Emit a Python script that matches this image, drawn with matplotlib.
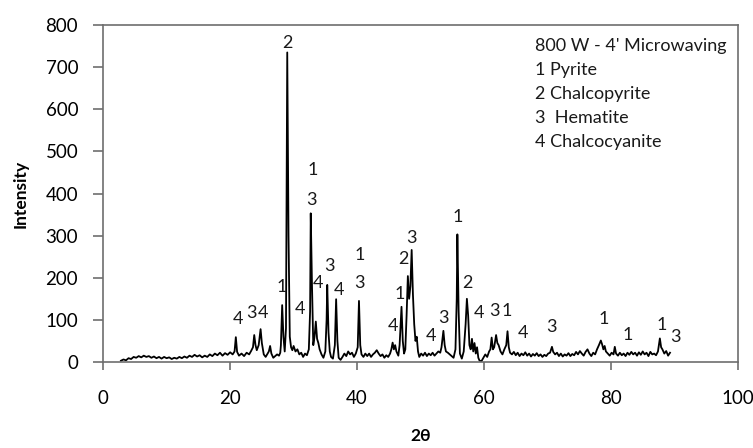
import matplotlib
matplotlib.use("Agg")
import matplotlib.pyplot as plt

plt.rcParams['font.family'] = ['Lato', 'DejaVu Sans']

# XRD trace (2theta, intensity)
two_theta = [
    2.8, 3.2, 3.6, 4.0, 4.4, 4.8, 5.2, 5.6, 6.0, 6.4, 6.8, 7.2, 7.6, 8.0, 8.4, 8.8,
    9.2, 9.6, 10.0, 10.4, 10.8, 11.2, 11.6, 12.0, 12.4, 12.8, 13.2, 13.6, 14.0, 14.4,
    14.8, 15.2, 15.6, 16.0, 16.4, 16.8, 17.2, 17.6, 18.0, 18.4, 18.8, 19.2, 19.6, 20.0,
    20.4, 20.7, 20.9, 21.1, 21.4, 21.8, 22.2, 22.6, 23.0, 23.3, 23.6, 23.8, 24.0, 24.2,
    24.5, 24.8, 25.0, 25.3, 25.6, 25.9, 26.1, 26.3, 26.5, 26.8, 27.1, 27.4, 27.7, 27.9,
    28.0, 28.2, 28.4, 28.6, 28.8, 29.0, 29.2, 29.4, 29.6, 29.8, 30.0, 30.3, 30.6, 30.9,
    31.2, 31.5, 31.8, 32.1, 32.4, 32.6, 32.7, 32.9, 33.1, 33.3, 33.5, 33.7, 33.9, 34.1,
    34.4, 34.7, 35.0, 35.2, 35.3, 35.5, 35.7, 35.9, 36.2, 36.5, 36.7, 36.9, 37.1, 37.4,
    37.7, 38.0, 38.3, 38.6, 38.9, 39.2, 39.5, 39.8, 40.1, 40.3, 40.5, 40.7, 41.0, 41.3,
    41.6, 41.9, 42.2, 42.5, 42.8, 43.1, 43.4, 43.7, 44.0, 44.3, 44.6, 44.9, 45.2, 45.4,
    45.6, 45.8, 46.0, 46.2, 46.5, 46.7, 47.0, 47.2, 47.4, 47.6, 47.8, 48.0, 48.2, 48.4,
    48.6, 48.8, 49.0, 49.2, 49.4, 49.6, 49.8, 50.1, 50.4, 50.7, 51.0, 51.3, 51.6, 51.9,
    52.2, 52.5, 52.8, 53.1, 53.3, 53.6, 53.8, 54.0, 54.3, 54.6, 54.9, 55.2, 55.5, 55.7,
    55.8, 56.0, 56.2, 56.5, 56.8, 57.1, 57.3, 57.5, 57.7, 57.9, 58.1, 58.3, 58.5, 58.7,
    58.9, 59.1, 59.3, 59.6, 59.9, 60.2, 60.5, 60.8, 61.0, 61.2, 61.4, 61.6, 61.9, 62.1,
    62.3, 62.6, 62.9, 63.2, 63.5, 63.7, 63.9, 64.1, 64.4, 64.7, 65.0, 65.3, 65.6, 65.9,
    66.2, 66.5, 66.8, 67.1, 67.4, 67.7, 68.0, 68.3, 68.6, 68.9, 69.2, 69.5, 69.8, 70.1,
    70.4, 70.7, 70.9, 71.2, 71.5, 71.8, 72.1, 72.4, 72.7, 73.0, 73.3, 73.6, 73.9, 74.2,
    74.5, 74.8, 75.1, 75.4, 75.7, 76.0, 76.3, 76.6, 76.9, 77.2, 77.5, 77.8, 78.1, 78.4,
    78.6, 78.8, 79.0, 79.2, 79.5, 79.8, 80.1, 80.4, 80.6, 80.8, 81.1, 81.4, 81.7, 82.0,
    82.3, 82.6, 82.9, 83.2, 83.5, 83.8, 84.1, 84.4, 84.7, 85.0, 85.3, 85.6, 85.9, 86.2,
    86.5, 86.8, 87.1, 87.4, 87.7, 87.9, 88.1, 88.4, 88.7, 89.0, 89.3,
]
intensity = [
    3, 6, 4, 9, 7, 12, 10, 14, 11, 15, 12, 14, 10, 13, 9, 12,
    8, 12, 9, 11, 7, 10, 8, 12, 9, 13, 10, 15, 12, 17,
    13, 16, 11, 15, 12, 18, 14, 20, 16, 22, 15, 21, 17, 23,
    18, 25, 59, 24, 15, 20, 14, 22, 18, 26, 35, 64, 40, 28,
    40, 78, 45, 18, 12, 20, 25, 38, 20, 10, 14, 18, 15, 22,
    40, 135, 60, 25, 80, 735, 300, 60, 35, 28, 38, 25, 30, 18,
    22, 12, 20, 16, 30, 120, 353, 180, 40, 60, 96, 55, 45, 30,
    18, 10, 25, 100, 183, 70, 25, 12, 8, 40, 149, 50, 10, 5,
    12, 20, 14, 25, 18, 22, 12, 20, 35, 145, 40, 18, 12, 20,
    14, 20, 12, 18, 22, 28, 20, 14, 18, 10, 16, 12, 20, 30,
    46, 30, 40, 25, 15, 40, 131, 50, 20, 30, 110, 204, 150, 180,
    266, 160, 90, 50, 60, 25, 12, 20, 15, 22, 14, 20, 16, 22,
    15, 20, 25, 22, 35, 74, 40, 25, 22, 18, 14, 10, 30, 150,
    303, 120, 20, 8, 25, 90, 150, 110, 40, 30, 55, 25, 45, 20,
    35, 10, 3, 2, 10, 18, 12, 25, 30, 58, 30, 35, 64, 45,
    40, 25, 18, 30, 40, 73, 35, 22, 18, 24, 16, 22, 14, 20,
    16, 23, 15, 20, 13, 19, 15, 21, 14, 18, 12, 17, 14, 20,
    22, 36, 24, 18, 22, 14, 20, 13, 18, 15, 21, 14, 19, 16,
    24, 18, 26, 20, 15, 24, 30, 20, 14, 22, 18, 30, 40, 51,
    42, 30, 38, 25, 20, 15, 22, 18, 36, 20, 15, 22, 16, 20,
    14, 22, 17, 24, 18, 22, 15, 23, 17, 25, 18, 22, 14, 24,
    18, 20, 16, 25, 56, 35, 30, 20, 26, 15, 22,
]

# phase numbers written over the peaks
peak_labels = ['4', '3', '4', '1', '2', '4', '1', '3', '4', '3', '4', '1', '3',
               '4', '1', '2', '3', '4', '3', '1', '2', '4', '3', '1', '4', '3',
               '1', '1', '1', '3']
label_x = [21.3, 23.4, 25.2, 28.2, 29.0, 31.0, 33.0, 32.8, 33.9, 35.7, 37.1, 40.4, 40.3,
           45.6, 46.7, 47.3, 48.6, 51.6, 53.6, 55.8, 57.4, 59.2, 61.6, 63.6, 66.1, 70.6,
           78.9, 82.6, 88.0, 90.1]
label_y = [102, 116, 116, 179, 758, 126, 456, 385, 188, 229, 171, 253, 188,
           85, 161, 244, 294, 62, 105, 345, 187, 117, 122, 122, 70, 82,
           101, 64, 89, 60]

legend_lines = ["800 W - 4' Microwaving", "1 Pyrite", "2 Chalcopyrite",
                "3  Hematite", "4 Chalcocyanite"]

x_ticks = [0, 20, 40, 60, 80, 100]
y_ticks = [0, 100, 200, 300, 400, 500, 600, 700, 800]

fig = plt.figure(figsize=(7.53, 4.48), dpi=100)
ax = fig.add_axes([0.137, 0.192, 0.843, 0.752])

ax.plot(two_theta, intensity, color='black', lw=1.3)

for lab, lx, ly in zip(peak_labels, label_x, label_y):
    ax.text(lx, ly, lab, ha='center', va='center', fontsize=13, color='#1a1a1a')

for i, line in enumerate(legend_lines):
    ax.text(0.68, 0.963 - i * 0.0715, line, transform=ax.transAxes,
            ha='left', va='top', fontsize=13, color='#1a1a1a')

ax.set_xlim(0, 100)
ax.set_ylim(0, 800)
ax.set_xticks(x_ticks)
ax.set_yticks(y_ticks)

for sp in ax.spines.values():
    sp.set_color('#6e6e6e')
    sp.set_linewidth(1.2)

ax.tick_params(axis='y', direction='out', length=7, width=1.2, color='#6e6e6e',
               pad=11, labelsize=13.5)
ax.tick_params(axis='x', direction='out', length=6, width=1.2, color='#6e6e6e',
               pad=14, labelsize=13.5)

ax.set_ylabel('Intensity', fontsize=12.5, fontweight='bold', labelpad=12)
ax.set_xlabel('2θ', fontsize=12.5, fontweight='bold', labelpad=15)

fig.savefig('out.png', dpi=100, facecolor='white')
